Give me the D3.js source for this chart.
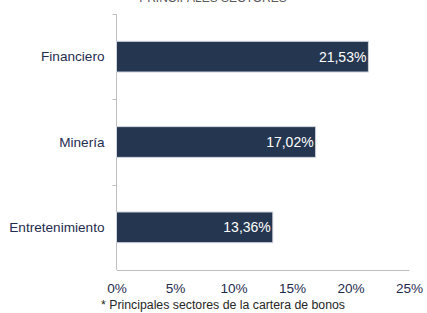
<!DOCTYPE html>
<html>
<head>
<meta charset="utf-8">
<script src="https://cdn.jsdelivr.net/npm/d3@7"></script>
<style>
  body { margin: 0; background: #fff; }
  text { font-family: "Liberation Sans", Arial, sans-serif; }
</style>
</head>
<body>
<script>

// data
var categories = ["Financiero", "Minería", "Entretenimiento"];
var values = [21.53, 17.02, 13.36];
var tickValues = [0, 5, 10, 15, 20, 25];

var width = 427, height = 313;

var svg = d3.select("body")
    .append("svg")
        .attr("width", width)
        .attr("height", height);

var x = d3.scaleLinear()
    .domain([0, 25])
    .range([116.5, 409]);

var y = d3.scaleBand()
    .domain(categories)
    .range([14, 270])
    .paddingInner(0.64)
    .paddingOuter(0.32);

// title, mostly cut off at the top
svg.append("text")
    .attr("x", 213)
    .attr("y", 1.5)
    .attr("text-anchor", "middle")
    .style("font-size", "12px")
    .style("fill", "#595959")
    .text("PRINCIPALES SECTORES");

// y axis line + separating ticks
var gridColor = "#bfbfbf";
svg.append("line")
    .attr("x1", x(0)).attr("x2", x(0))
    .attr("y1", 14).attr("y2", 270)
    .attr("stroke", gridColor);

[0, 1, 2].forEach(function (i) {
    var yy = 14 + i * (256 / 3);
    svg.append("line")
        .attr("x1", x(0) - 4).attr("x2", x(0))
        .attr("y1", Math.round(yy) + 0.5).attr("y2", Math.round(yy) + 0.5)
        .attr("stroke", gridColor);
});

// x axis
var xAxis = svg.append("g")
    .attr("transform", "translate(0,270)")
    .call(d3.axisBottom(x)
        .tickValues(tickValues)
        .tickSize(0)
        .tickPadding(13)
        .tickFormat(function (d) { return d + "%"; }));

xAxis.select(".domain").attr("stroke", gridColor);
xAxis.selectAll("text")
    .style("font-size", "13.6px")
    .style("fill", "#1f2d4f")
    .style("font-family", "'Liberation Sans', Arial, sans-serif");

// bars
svg.selectAll("rect.bar")
    .data(values)
    .enter()
    .append("rect")
        .attr("class", "bar")
        .attr("x", x(0))
        .attr("y", function (d, i) { return y(categories[i]); })
        .attr("width", function (d) { return x(d) - x(0); })
        .attr("height", y.bandwidth())
        .attr("fill", "#253650")
        .attr("stroke", "#d0d5dd")
        .attr("stroke-width", 1);

// value labels
svg.selectAll("text.val")
    .data(values)
    .enter()
    .append("text")
        .attr("class", "val")
        .attr("x", function (d) { return x(d) - 2; })
        .attr("y", function (d, i) { return y(categories[i]) + y.bandwidth() / 2 + 5; })
        .attr("text-anchor", "end")
        .style("font-size", "14px")
        .style("fill", "#ffffff")
        .text(function (d) { return d.toFixed(2).replace(".", ",") + "%"; });

// category labels
svg.selectAll("text.cat")
    .data(categories)
    .enter()
    .append("text")
        .attr("class", "cat")
        .attr("x", 104.5)
        .attr("y", function (d) { return y(d) + y.bandwidth() / 2 + 4.8; })
        .attr("text-anchor", "end")
        .style("font-size", "13.6px")
        .style("fill", "#1f2d4f")
        .text(function (d) { return d; });

// footnote
svg.append("text")
    .attr("x", 101)
    .attr("y", 309)
    .style("font-size", "12.3px")
    .style("fill", "#262626")
    .text("* Principales sectores de la cartera de bonos");

</script>
</body>
</html>
